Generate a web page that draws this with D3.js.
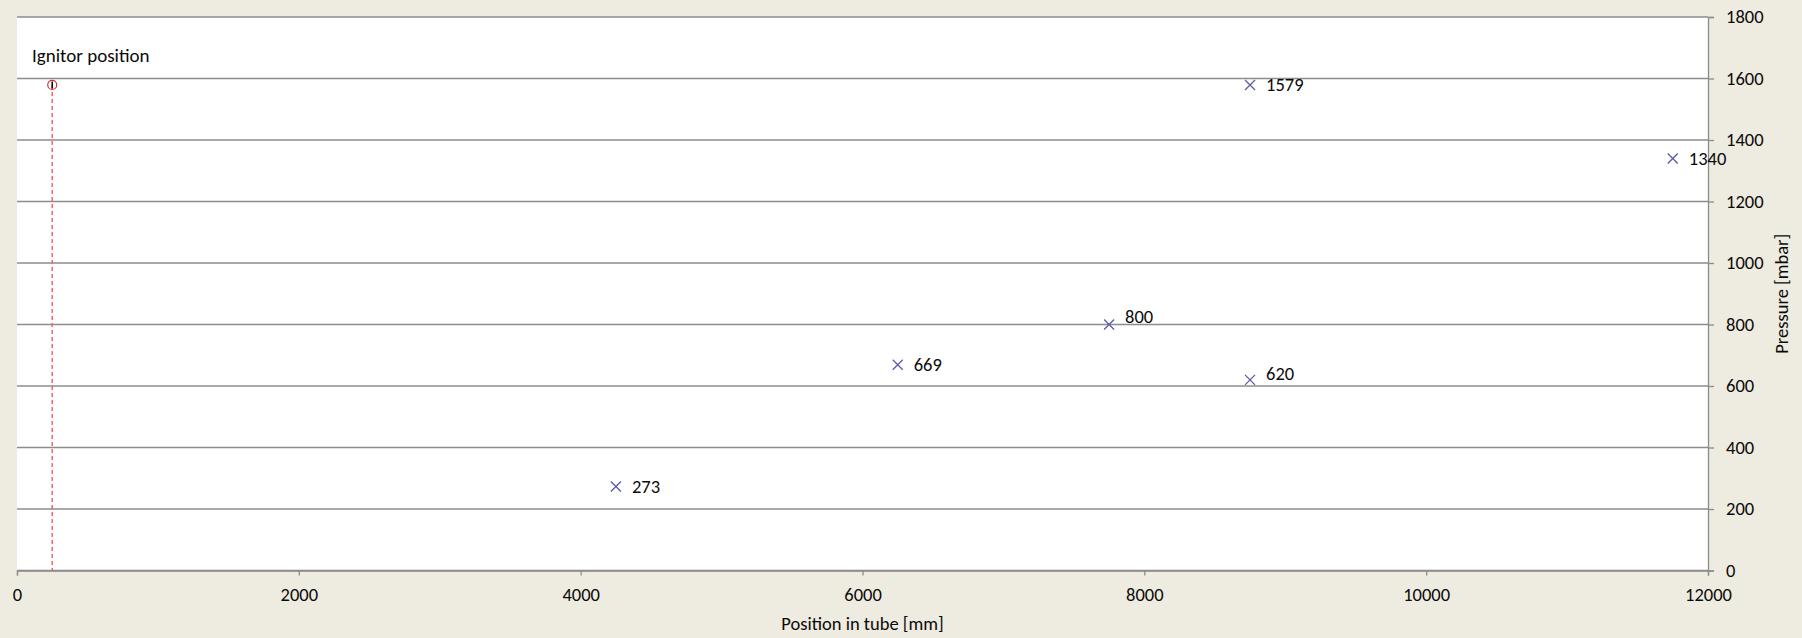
<!DOCTYPE html>
<html>
<head>
<meta charset="utf-8">
<script src="https://cdn.jsdelivr.net/npm/d3@7"></script>
<style>
  html, body { margin: 0; padding: 0; background: #EEEBE0; }
  svg { display: block; }
  text { font-family: Carlito, Calibri, Lato, "Open Sans", sans-serif; fill: #0a0a0a; }
</style>
</head>
<body>
<svg id="chart" width="1802" height="638"></svg>
<script>
// ---- data ----
const positions = [4250, 6250, 7750, 8750, 8750, 11750];
const pressures = [273, 669, 800, 620, 1579, 1340];
const ignitorPosition = [250];
const ignitorPressure = [1579];
const ignitorLabel = "Ignitor position";
const xTicks = [0, 2000, 4000, 6000, 8000, 10000, 12000];
const yTicks = [0, 200, 400, 600, 800, 1000, 1200, 1400, 1600, 1800];
const xTitle = "Position in tube [mm]";
const yTitle = "Pressure [mbar]";

(function () {
// ---- layout ----
const svg = d3.select("#chart");
const pL = 17, pR = 1708, pT = 17, pB = 570.5;
const x = d3.scaleLinear().domain([0, 12000]).range([pL, pR]);
const y = d3.scaleLinear().domain([0, 1800]).range([pB, pT]);
const fs = 18.5;

svg.append("rect").attr("x", pL).attr("y", pT)
  .attr("width", pR - pL).attr("height", pB - pT).attr("fill", "#fff");

// gridlines
svg.append("g").selectAll("line").data(yTicks).join("line")
  .attr("x1", pL).attr("x2", pR)
  .attr("y1", d => y(d)).attr("y2", d => y(d))
  .attr("stroke", "#8c8c8c").attr("stroke-width", 1.3);

// y axis on right
const yAxis = svg.append("g").attr("transform", `translate(${pR},0)`)
  .call(d3.axisRight(y).tickValues(yTicks).tickSize(6).tickPadding(12).tickFormat(d3.format("d")));
yAxis.select(".domain").attr("stroke", "#8c8c8c").attr("stroke-width", 1.3);
yAxis.selectAll(".tick line").attr("stroke", "#8c8c8c").attr("stroke-width", 1.3);
yAxis.selectAll("text").attr("font-size", fs).attr("font-family", null).attr("fill", "#0a0a0a");

// x axis
const xAxis = svg.append("g").attr("transform", `translate(0,${pB})`)
  .call(d3.axisBottom(x).tickValues(xTicks).tickSize(5).tickPadding(12).tickFormat(d3.format("d")));
xAxis.select(".domain").attr("stroke", "#8c8c8c").attr("stroke-width", 1.3);
xAxis.selectAll(".tick line").attr("stroke", "#8c8c8c").attr("stroke-width", 1.3);
xAxis.selectAll("text").attr("font-size", fs).attr("font-family", null).attr("fill", "#0a0a0a");

// titles
svg.append("text").attr("x", (pL + pR) / 2).attr("y", 630)
  .attr("text-anchor", "middle").attr("font-size", fs).text(xTitle);
svg.append("text").attr("transform", `translate(1788,${(pT + pB) / 2}) rotate(-90)`)
  .attr("text-anchor", "middle").attr("font-size", fs).text(yTitle);

// ignitor dashed line + marker
svg.append("g").selectAll("line").data(ignitorPosition).join("line")
  .attr("x1", d => x(d)).attr("x2", d => x(d))
  .attr("y1", (d, i) => y(ignitorPressure[i])).attr("y2", pB)
  .attr("stroke", "#ff6060").attr("stroke-width", 1.5).attr("stroke-dasharray", "4,3");
svg.append("g").selectAll("line").data(ignitorPosition).join("line")
  .attr("x1", d => x(d)).attr("x2", d => x(d))
  .attr("y1", (d, i) => y(ignitorPressure[i]) - 3.5).attr("y2", (d, i) => y(ignitorPressure[i]) + 3.5)
  .attr("stroke", "#000").attr("stroke-width", 1.5);
svg.append("g").selectAll("circle").data(ignitorPosition).join("circle")
  .attr("cx", d => x(d)).attr("cy", (d, i) => y(ignitorPressure[i])).attr("r", 4.5)
  .attr("fill", "none").attr("stroke", "#d03030").attr("stroke-width", 1.2);
svg.append("text").attr("x", 32).attr("y", 62).attr("font-size", 19).text(ignitorLabel);

// data markers (x)
const pts = positions.map((p, i) => ({ p, v: pressures[i] }));
const s = 5;
svg.append("g").selectAll("path").data(pts).join("path")
  .attr("d", d => {
    const cx = x(d.p), cy = y(d.v);
    return `M${cx - s},${cy - s}L${cx + s},${cy + s}M${cx - s},${cy + s}L${cx + s},${cy - s}`;
  })
  .attr("stroke", "#5b5ba8").attr("stroke-width", 1.3).attr("fill", "none");

// value labels
const labelShift = { 800: -8, 620: -6 };
svg.append("g").selectAll("text").data(pts).join("text")
  .attr("x", d => x(d.p) + 16)
  .attr("y", d => y(d.v) + (labelShift[d.v] || 0))
  .attr("dy", "0.35em").attr("font-size", fs)
  .text(d => d.v);
})();
</script>
</body>
</html>
